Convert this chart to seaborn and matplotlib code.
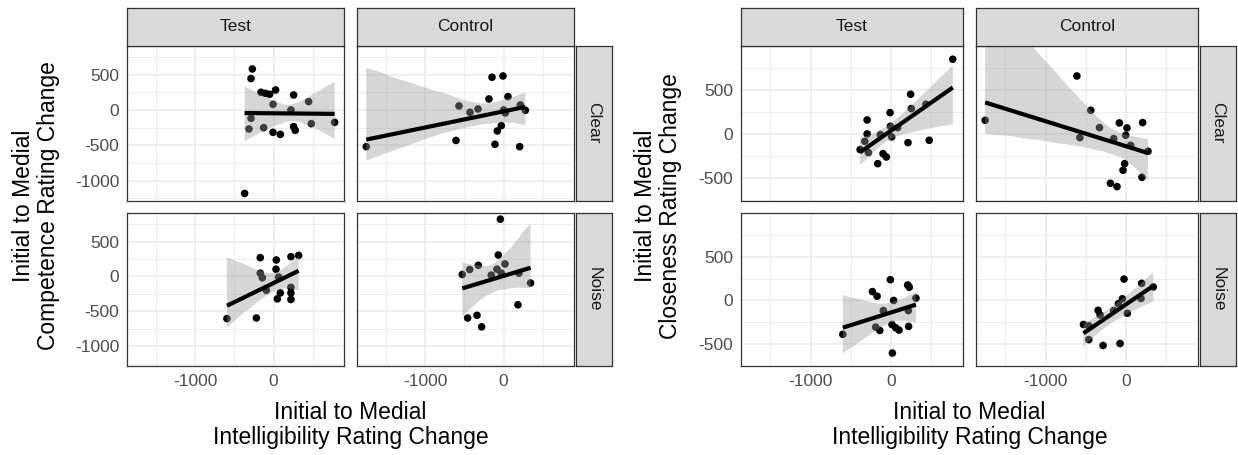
import matplotlib
matplotlib.use("Agg")
import matplotlib.pyplot as plt
import seaborn as sns
import pandas as pd

# ---- data (x = intelligibility change, y = rating change) ----
comp_test_clear_x = [-271, -288, -161, -106, -51, 25, -8, 254, 220, 445, -288, -314, -127, -8, 85, 254, 275, 479, 776, -369]
comp_test_clear_y = [580, 444, 250, 236, 222, 283, 80, 212, 0, 118, -118, -269, -250, -316, -345, -236, -288, -194, -175, -1180]
comp_ctrl_clear_x = [-1747, -148, -8, -187, 55, -568, -428, -326, 0, 21, 212, 276, -30, -81, -606, -110, 204]
comp_ctrl_clear_y = [-519, 463, 481, 156, 189, 57, -33, 14, 0, -42, 71, -5, -222, -297, -430, -486, -519]
comp_test_noise_x = [-170, 34, 220, 318, 30, -170, -144, 64, -93, 85, 47, 220, 220, 220, -594, -220]
comp_test_noise_y = [269, 236, 283, 302, 104, 47, -19, -9, -198, -236, -321, -156, -236, -330, -604, -595]
comp_ctrl_noise_x = [-42, -68, -322, -432, -526, -157, -85, 17, -30, 195, 343, 182, -458, -339, -280]
comp_ctrl_noise_y = [821, 307, 160, 99, 28, 19, 104, 179, 47, 47, -94, -406, -595, -557, -722]

clos_test_clear_x = [768, 244, 252, 434, -12, -297, -297, -326, -384, -281, -132, -8, 83, 8, 211, 475, -99, -58, -165]
clos_test_clear_y = [853, 455, 292, 341, 246, 163, 4, -80, -174, -208, -4, 91, 76, -30, -95, -68, -220, -258, -334]
clos_ctrl_clear_x = [-1751, -611, -438, -330, -574, -153, -83, 12, -4, 58, 207, 273, -17, -37, 198, -194, -112]
clos_ctrl_clear_y = [159, 663, 273, 76, -38, -49, 129, 72, -11, -125, 133, -193, -334, -409, -489, -557, -595]
clos_test_noise_x = [-8, 207, 227, -231, -173, 33, 310, -95, 215, -190, -140, 12, 58, 99, 219, -599, 17]
clos_test_noise_y = [239, 178, 152, 102, 49, 0, 27, -117, -117, -307, -345, -277, -315, -341, -299, -390, -606]
clos_ctrl_noise_x = [-25, 194, 339, 186, -45, -95, -153, 17, -347, -322, -529, -463, -463, -285, -74]
clos_ctrl_noise_y = [246, 197, 155, 23, 19, -38, -117, -148, -114, -167, -277, -292, -451, -519, -496]

conditions = ["Test", "Control"]
listening = ["Clear", "Noise"]

competence = {
    ("Clear", "Test"): (comp_test_clear_x, comp_test_clear_y),
    ("Clear", "Control"): (comp_ctrl_clear_x, comp_ctrl_clear_y),
    ("Noise", "Test"): (comp_test_noise_x, comp_test_noise_y),
    ("Noise", "Control"): (comp_ctrl_noise_x, comp_ctrl_noise_y),
}
closeness = {
    ("Clear", "Test"): (clos_test_clear_x, clos_test_clear_y),
    ("Clear", "Control"): (clos_ctrl_clear_x, clos_ctrl_clear_y),
    ("Noise", "Test"): (clos_test_noise_x, clos_test_noise_y),
    ("Noise", "Control"): (clos_ctrl_noise_x, clos_ctrl_noise_y),
}

W, H = 1238, 455
sns.set_theme(style="white")
plt.rcParams["font.family"] = ["Liberation Sans", "DejaVu Sans"]

fig = plt.figure(figsize=(W / 100, H / 100), dpi=100)

GRID = "#EBEBEB"
DARK = "#333333"
STRIP = "#D9D9D9"


def box(x0, y0, x1, y1):
    return [x0 / W, 1 - y1 / H, (x1 - x0) / W, (y1 - y0) / H]


def strip(x0, y0, x1, y1, label, rot=0):
    sax = fig.add_axes(box(x0, y0, x1, y1))
    sax.set_facecolor(STRIP)
    sax.set_xticks([])
    sax.set_yticks([])
    for s in sax.spines.values():
        s.set_color(DARK)
        s.set_linewidth(0.9)
    sax.text(0.5, 0.5, label, rotation=rot, ha="center", va="center",
             fontsize=12.5, color="#1A1A1A", transform=sax.transAxes)


def facet_grid(data, cols_px, rows_px, ylim, ymaj, ymin_, ylabel, ylabel_x):
    for r, lst in enumerate(listening):
        for c, cond in enumerate(conditions):
            x0, x1 = cols_px[c]
            y0, y1 = rows_px[r]
            ax = fig.add_axes(box(x0, y0, x1, y1))
            xs, ys = data[(lst, cond)]
            df = pd.DataFrame({"x": xs, "y": ys})
            sns.scatterplot(data=df, x="x", y="y", color="black", s=30,
                            edgecolor="none", ax=ax, zorder=2)
            sns.regplot(data=df, x="x", y="y", scatter=False, ci=95, seed=1,
                        n_boot=2000, color="black", line_kws={"lw": 3}, ax=ax)
            # ggplot-like grey ribbon drawn over the points
            for coll in ax.collections[1:]:
                coll.set_alpha(None)
                coll.set_facecolor((0.6, 0.6, 0.6, 0.4))
                coll.set_edgecolor("none")
                coll.set_zorder(3)
            for ln in ax.lines:
                ln.set_zorder(4)
                ln.set_solid_capstyle("butt")
            ax.set_xlim(-1865, 895)
            ax.set_ylim(*ylim)
            ax.set_xticks([-1000, 0])
            ax.set_xticks([-1500, -500, 500], minor=True)
            ax.set_yticks(ymaj)
            ax.set_yticks(ymin_, minor=True)
            ax.grid(True, which="major", color=GRID, lw=1.1, zorder=0)
            ax.grid(True, which="minor", color=GRID, lw=0.6, zorder=0)
            ax.set_axisbelow(True)
            ax.set_xlabel("")
            ax.set_ylabel("")
            for s in ax.spines.values():
                s.set_color(DARK)
                s.set_linewidth(0.9)
            ax.tick_params(which="minor", length=0)
            ax.tick_params(which="major", length=3.5, width=0.9, color=DARK,
                           labelsize=12.5, labelcolor="#4D4D4D", pad=2)
            if c != 0:
                ax.tick_params(axis="y", left=False, labelleft=False)
            if r != 1:
                ax.tick_params(axis="x", bottom=False, labelbottom=False)
            else:
                ax.set_xticklabels(["-1000", "0"])
            if c == 0:
                ax.set_yticklabels([str(v) for v in ymaj])

    # top strips
    for c, cond in enumerate(conditions):
        strip(cols_px[c][0], 8, cols_px[c][1], 45.7, cond)
    # right strips
    sx0 = cols_px[1][1] + 1.5
    for r, lst in enumerate(listening):
        strip(sx0, rows_px[r][0], sx0 + 36.5, rows_px[r][1], lst, rot=-90)

    cx = (cols_px[0][0] + cols_px[1][1]) / 2
    fig.text(cx / W, 1 - 425 / H, "Initial to Medial\nIntelligibility Rating Change",
             ha="center", va="center", fontsize=16.5, linespacing=1.15, color="black")
    cy = (rows_px[0][0] + rows_px[1][1]) / 2
    fig.text(ylabel_x / W, 1 - cy / H, ylabel, rotation=90, ha="center",
             va="center", fontsize=16.5, linespacing=1.15, color="black")


rows = [(45.7, 200.7), (213, 366)]

facet_grid(competence, [(127, 344), (357, 574)], rows, (-1283, 909),
           [-1000, -500, 0, 500], [-1250, -750, -250, 250, 750],
           "Initial to Medial\nCompetence Rating Change", 36)

facet_grid(closeness, [(741, 963), (976, 1198)], rows, (-755, 1007),
           [-500, 0, 500], [-750, -250, 250, 750],
           "Initial to Medial\nCloseness Rating Change", 658)

fig.savefig("out.png", dpi=100)
